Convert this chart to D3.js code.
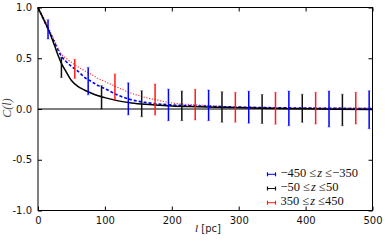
<!DOCTYPE html>
<html><head><meta charset="utf-8">
<script src="https://cdn.jsdelivr.net/npm/d3@7"></script>
<style>body{margin:0;background:#fff}svg{display:block}</style>
</head><body>
<script>
// ---- data ----
const xTicks = [0, 100, 200, 300, 400, 500];
const yTicks = [-1.0, -0.5, 0.0, 0.5, 1.0];

const lBlue  = [15, 75, 135, 195, 255, 315, 375, 435, 495];
const cBlue  = [0.785, 0.275, 0.10, 0.04, 0.036, 0.018, 0.006, 0.0, -0.007];
const eBlue  = [0.095, 0.135, 0.158, 0.156, 0.151, 0.158, 0.171, 0.178, 0.187];

const lBlack = [35, 95, 155, 215, 275, 335, 395, 455];
const cBlack = [0.41, 0.115, 0.052, 0.031, 0.02, 0.0, 0.007, -0.01];
const eBlack = [0.10, 0.115, 0.128, 0.146, 0.15, 0.143, 0.138, 0.155];

const lRed   = [55, 115, 175, 235, 295, 355, 415, 475];
const cRed   = [0.395, 0.218, 0.093, 0.043, 0.017, 0.007, 0.008, 0.008];
const eRed   = [0.095, 0.128, 0.153, 0.151, 0.147, 0.157, 0.156, 0.156];

const lCurve     = [0, 5, 10, 15, 20, 25, 30, 35, 40, 50, 60, 70, 80, 90, 100, 120, 140, 160, 180, 200, 240, 280, 320, 360, 400, 450, 500];
const curveBlack = [1.0, 0.93, 0.86, 0.79, 0.71, 0.62, 0.53, 0.45, 0.39, 0.28, 0.22, 0.185, 0.155, 0.13, 0.112, 0.08, 0.06, 0.047, 0.038, 0.03, 0.022, 0.015, 0.01, 0.005, 0.002, -0.003, -0.006];
const curveBlue  = [1.0, 0.93, 0.86, 0.79, 0.72, 0.65, 0.58, 0.52, 0.48, 0.42, 0.37, 0.31, 0.27, 0.23, 0.20, 0.135, 0.09, 0.065, 0.05, 0.04, 0.03, 0.022, 0.016, 0.012, 0.009, 0.006, 0.005];
const curveRed   = [1.0, 0.94, 0.88, 0.81, 0.74, 0.67, 0.60, 0.54, 0.51, 0.46, 0.415, 0.375, 0.34, 0.30, 0.27, 0.21, 0.155, 0.115, 0.085, 0.06, 0.04, 0.024, 0.016, 0.012, 0.01, 0.009, 0.008];

const legendLabels = [
  ["\u2212450 \u2264", "z", " \u2264\u2212350"],
  ["\u221250 \u2264", "z", " \u226450"],
  ["350 \u2264", "z", " \u2264450"]
];
const colors = ["#0000ff", "#111111", "#ff1a1a"];

// ---- chart ----
const W = 390, H = 241;
const svg = d3.select("body").append("svg").attr("width", W).attr("height", H);
const x = d3.scaleLinear().domain([0, 500]).range([38, 372.5]);
const y = d3.scaleLinear().domain([-1, 1]).range([210.5, 7.5]);

const g = svg.append("g");

// zero line
g.append("line").attr("x1", x(0)).attr("x2", x(500)).attr("y1", y(0)).attr("y2", y(0))
  .attr("stroke", "#000").attr("stroke-width", 1.2);

// curves
const line = d3.line().curve(d3.curveMonotoneX);
function drawCurve(vals, color, dash, w) {
  g.append("path").attr("d", line(lCurve.map((l, i) => [x(l), y(vals[i])])))
    .attr("fill", "none").attr("stroke", color).attr("stroke-width", w)
    .attr("stroke-dasharray", dash);
}
drawCurve(curveRed, "#ff3030", "1.2,1.6", 1.1);
drawCurve(curveBlue, "#0000ff", "3,2", 1.6);
drawCurve(curveBlack, "#000", null, 1.5);

// error bars
function drawBars(ls, cs, es, color) {
  ls.forEach((l, i) => {
    const xx = x(l), y1 = y(cs[i] + es[i]), y2 = y(cs[i] - es[i]);
    g.append("line").attr("x1", xx).attr("x2", xx).attr("y1", y1).attr("y2", y2)
      .attr("stroke", color).attr("stroke-width", 1.5);
    [y1, y2].forEach(yy => g.append("line").attr("x1", xx - 1.5).attr("x2", xx + 1.5)
      .attr("y1", yy).attr("y2", yy).attr("stroke", color).attr("stroke-width", 1).attr("opacity", 0.35));
  });
}
drawBars(lBlue, cBlue, eBlue, colors[0]);
drawBars(lBlack, cBlack, eBlack, colors[1]);
drawBars(lRed, cRed, eRed, colors[2]);

// frame
g.append("rect").attr("x", x(0)).attr("y", y(1)).attr("width", x(500) - x(0)).attr("height", y(-1) - y(1))
  .attr("fill", "none").attr("stroke", "#000").attr("stroke-width", 1);

// ticks (inside) with d3 axes
const font = "DejaVu Sans, sans-serif";
const axB = svg.append("g").attr("transform", `translate(0,${y(-1)})`)
  .call(d3.axisBottom(x).tickValues(xTicks).tickSizeInner(-4).tickSizeOuter(0).tickPadding(7).tickFormat(d3.format("d")));
const axT = svg.append("g").attr("transform", `translate(0,${y(1)})`)
  .call(d3.axisTop(x).tickValues(xTicks).tickSizeInner(-4).tickSizeOuter(0).tickFormat(""));
const axL = svg.append("g").attr("transform", `translate(${x(0)},0)`)
  .call(d3.axisLeft(y).tickValues(yTicks).tickSizeInner(-4).tickSizeOuter(0).tickPadding(6).tickFormat(d => d3.format(".1f")(d).replace("\u2212", "-")));
const axR = svg.append("g").attr("transform", `translate(${x(500)},0)`)
  .call(d3.axisRight(y).tickValues(yTicks).tickSizeInner(-4).tickSizeOuter(0).tickFormat(""));
[axB, axT, axL, axR].forEach(a => {
  a.select(".domain").remove();
  a.selectAll(".tick line").attr("stroke", "#000").attr("stroke-width", 1);
  a.selectAll("text").attr("font-family", font).attr("font-size", 10).attr("fill", "#111");
});
axB.selectAll("text").attr("dy", "0.6em");

// axis labels
svg.append("text").attr("x", 208).attr("y", 232).attr("text-anchor", "middle")
  .attr("font-family", font).attr("font-size", 10).attr("fill", "#222")
  .call(t => {
    t.append("tspan").attr("font-family", "Liberation Serif, serif").attr("font-style", "italic").attr("font-size", 11).text("l");
    t.append("tspan").text(" [pc]");
  });
svg.append("text").attr("transform", `translate(10.5,108) rotate(-90)`).attr("text-anchor", "middle")
  .attr("font-family", "Liberation Serif, serif").attr("font-style", "italic").attr("font-size", 12).attr("fill", "#444")
  .text("C(l)");

// legend
const legY = [174.3, 188.5, 202.7];
legendLabels.forEach((lab, i) => {
  const yy = legY[i], c = colors[i];
  svg.append("line").attr("x1", 267.5).attr("x2", 275.5).attr("y1", yy).attr("y2", yy).attr("stroke", c).attr("stroke-width", 1);
  [267.5, 275.5].forEach(xx => svg.append("line").attr("x1", xx).attr("x2", xx).attr("y1", yy - 2).attr("y2", yy + 2)
    .attr("stroke", c).attr("stroke-width", 1.2));
  const t = svg.append("text").attr("x", 280.5).attr("y", yy + 2.3)
    .attr("font-family", "Liberation Serif, serif").attr("font-size", 12.5).attr("fill", "#111");
  t.append("tspan").text(lab[0]);
  t.append("tspan").attr("font-style", "italic").attr("dx", 1).text(lab[1]);
  t.append("tspan").text(lab[2]);
});
</script>
</body></html>
